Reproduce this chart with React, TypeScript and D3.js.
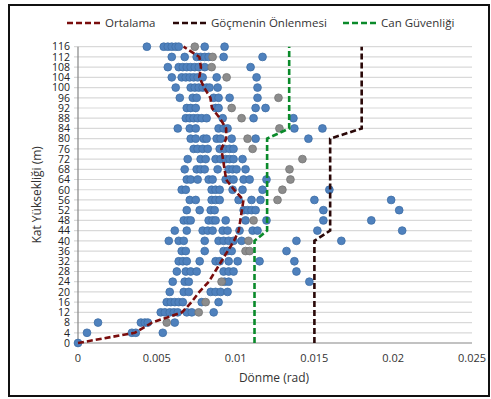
import React, { useEffect, useRef } from 'react';
import * as d3 from 'd3';

const levels = [0, 4, 8, 12, 16, 20, 24, 28, 32, 36, 40, 44, 48, 52, 56, 60, 64, 68, 72, 76, 80, 84, 88, 92, 96, 100, 104, 108, 112, 116];

const xTicks = [0, 0.005, 0.01, 0.015, 0.02, 0.025];
const xTickLabels = ['0', '0.005', '0.01', '0.015', '0.02', '0.025'];

// Ortalama (mean) per level
const ortalama = [0, 0.0036, 0.0047, 0.0066, 0.0072, 0.0077, 0.0083, 0.0087, 0.0091, 0.0095, 0.0099, 0.0102, 0.0103, 0.0104, 0.0105, 0.0099, 0.0094, 0.0093, 0.0092, 0.0091, 0.0094, 0.0094, 0.009, 0.0085, 0.0084, 0.008, 0.0077, 0.0078, 0.0077, 0.0067];

// limit lines
const gocmeninLevels = [0, 40, 44, 80, 84, 116];
const gocmeninValues = [0.015, 0.015, 0.016, 0.016, 0.018, 0.018];
const canLevels = [0, 40, 44, 80, 84, 116];
const canValues = [0.0112, 0.0112, 0.012, 0.012, 0.0134, 0.0134];

// individual records, one list per level (same order as levels)
const blueDots = [
  [0],
  [0.00057, 0.00342, 0.00367, 0.00538],
  [0.00127, 0.00399, 0.00424, 0.00443, 0.00614],
  [0.00525, 0.00551, 0.00582, 0.00608, 0.00633, 0.0069, 0.00722, 0.00861],
  [0.00563, 0.00589, 0.00614, 0.00639, 0.00665, 0.00785, 0.00892],
  [0.00582, 0.00671, 0.00703, 0.00842, 0.00873, 0.00905, 0.00949],
  [0.00601, 0.00677, 0.00703, 0.0093, 0.00956, 0.01468],
  [0.00627, 0.00684, 0.00715, 0.00753, 0.00924, 0.00956, 0.00987, 0.01386],
  [0.00639, 0.00665, 0.0069, 0.00772, 0.00873, 0.00899, 0.00956, 0.01013, 0.01152, 0.01373],
  [0.00658, 0.00684, 0.00804, 0.00924, 0.00949, 0.00975, 0.01323],
  [0.00576, 0.00639, 0.00671, 0.00804, 0.00892, 0.00924, 0.00956, 0.00987, 0.01038, 0.01386, 0.01671],
  [0.00614, 0.0069, 0.00791, 0.00823, 0.00854, 0.00918, 0.00949, 0.01025, 0.01108, 0.01139, 0.01519, 0.02057],
  [0.00671, 0.00696, 0.00715, 0.00829, 0.00854, 0.00873, 0.00937, 0.01063, 0.01196, 0.01557, 0.01861],
  [0.0069, 0.00772, 0.00842, 0.00867, 0.01051, 0.01076, 0.01101, 0.01127, 0.01557, 0.02038],
  [0.00709, 0.00747, 0.00848, 0.00873, 0.00899, 0.01019, 0.01101, 0.01158, 0.015, 0.01987],
  [0.00658, 0.00684, 0.00848, 0.00873, 0.00899, 0.00981, 0.01044, 0.01171, 0.01595],
  [0.0069, 0.00715, 0.00759, 0.00829, 0.00854, 0.00937, 0.00962, 0.00987, 0.01051, 0.01089, 0.01196],
  [0.00677, 0.00753, 0.00778, 0.00804, 0.00886, 0.00956, 0.00981, 0.01006, 0.01063],
  [0.00696, 0.00778, 0.0081, 0.00873, 0.00905, 0.00937, 0.00962, 0.00987, 0.01044],
  [0.00734, 0.00759, 0.00791, 0.00823, 0.00899, 0.0093, 0.00962, 0.00987],
  [0.00715, 0.00747, 0.00797, 0.00816, 0.0088, 0.00905, 0.00975, 0.01127, 0.01462],
  [0.00633, 0.00709, 0.00747, 0.00892, 0.00924, 0.00949, 0.01373, 0.01551],
  [0.00684, 0.00709, 0.00734, 0.00759, 0.00785, 0.00816, 0.00918, 0.01114, 0.01367],
  [0.0069, 0.00715, 0.00747, 0.00873, 0.00892, 0.01127, 0.0119],
  [0.00646, 0.00728, 0.00753, 0.00861, 0.00892, 0.00962, 0.01139],
  [0.0062, 0.00715, 0.00741, 0.00766, 0.00791, 0.00816, 0.00835, 0.00886, 0.01139],
  [0.00595, 0.00658, 0.00684, 0.00709, 0.00734, 0.00759, 0.00791, 0.0088, 0.01133],
  [0.0057, 0.00639, 0.00665, 0.0069, 0.00715, 0.00741, 0.00766, 0.00804, 0.01095],
  [0.00595, 0.00677, 0.00753, 0.00778, 0.00804, 0.00829, 0.00924, 0.01171],
  [0.00437, 0.00544, 0.0057, 0.00595, 0.0062, 0.00639, 0.00804, 0.0093]
];

const grayDots = [
  [], [], [0.00563], [0.00766], [0.0081], [], [0.00911], [], [], [0.01063, 0.01089],
  [0.01082], [], [0.01114], [], [0.01266], [0.01297], [0.01348], [0.01342], [0.01424], [0.01108],
  [0.01076], [0.01278], [0.01038], [0.00975], [0.01272], [], [0.00943], [0.00848], [0.00854], [0.00741]
];

const legendNames = ['Ortalama', 'Göçmenin Önlenmesi', 'Can Güvenliği'];
const legendColors = ['#7a0d0d', '#2a0808', '#0a8a2a'];

const App = () => {
  const ref = useRef<SVGSVGElement>(null);

  useEffect(() => {
    const svg = d3.select(ref.current);
    svg.selectAll('*').remove();

    const font = "'Open Sans', sans-serif";
    const left = 78, right = 472, top = 46.7, bottom = 343;

    const x = d3.scaleLinear().domain([0, 0.025]).range([left, right]);
    const y = d3.scaleLinear().domain([0, 116]).range([bottom, top]);

    // outer frame
    svg.append('rect')
      .attr('x', 9).attr('y', 5).attr('width', 480).attr('height', 391)
      .attr('fill', 'white').attr('stroke', '#111').attr('stroke-width', 2);

    // gridlines
    svg.append('g').selectAll('line')
      .data(levels)
      .enter().append('line')
      .attr('x1', left - 4).attr('x2', right)
      .attr('y1', d => y(d)).attr('y2', d => y(d))
      .attr('stroke', d => d === 0 ? '#868686' : '#d9d9d9')
      .attr('stroke-width', 1.2);

    svg.append('line')
      .attr('x1', left).attr('x2', left)
      .attr('y1', top).attr('y2', bottom + 4)
      .attr('stroke', '#868686').attr('stroke-width', 1.2);

    // y tick labels
    svg.append('g').selectAll('text')
      .data(levels)
      .enter().append('text')
      .attr('x', left - 8).attr('y', d => y(d))
      .attr('dy', '0.36em')
      .attr('text-anchor', 'end')
      .attr('font-family', font).attr('font-size', 10.5)
      .attr('fill', '#222')
      .text(d => d);

    // x tick labels
    svg.append('g').selectAll('text')
      .data(xTicks)
      .enter().append('text')
      .attr('x', d => x(d)).attr('y', bottom + 19)
      .attr('text-anchor', 'middle')
      .attr('font-family', font).attr('font-size', 11)
      .attr('fill', '#333')
      .text((d, i) => xTickLabels[i]);

    // axis titles
    svg.append('text')
      .attr('x', (left + right) / 2 - 1).attr('y', 382)
      .attr('text-anchor', 'middle')
      .attr('font-family', font).attr('font-size', 12)
      .attr('fill', '#333')
      .text('Dönme (rad)');

    svg.append('text')
      .attr('transform', `translate(41,${(top + bottom) / 2}) rotate(-90)`)
      .attr('text-anchor', 'middle')
      .attr('font-family', font).attr('font-size', 12)
      .attr('fill', '#333')
      .text('Kat Yüksekliği (m)');

    // scatter
    const blue = levels.flatMap((lv, i) => blueDots[i].map(v => ({ lv, v })));
    const gray = levels.flatMap((lv, i) => grayDots[i].map(v => ({ lv, v })));

    svg.append('g').selectAll('circle')
      .data(blue)
      .enter().append('circle')
      .attr('cx', d => x(d.v)).attr('cy', d => y(d.lv))
      .attr('r', 3.9)
      .attr('fill', '#4f81bd').attr('stroke', '#3f6fa6').attr('stroke-width', 0.8);

    svg.append('g').selectAll('circle')
      .data(gray)
      .enter().append('circle')
      .attr('cx', d => x(d.v)).attr('cy', d => y(d.lv))
      .attr('r', 3.9)
      .attr('fill', '#8c8c8c').attr('stroke', '#767676').attr('stroke-width', 0.8);

    // lines
    const line = d3.line<[number, number]>()
      .x(d => x(d[0]))
      .y(d => y(d[1]));

    const series: [number, number][][] = [
      levels.map((lv, i) => [ortalama[i], lv]),
      gocmeninLevels.map((lv, i) => [gocmeninValues[i], lv]),
      canLevels.map((lv, i) => [canValues[i], lv])
    ];

    series.forEach((s, i) => {
      svg.append('path')
        .attr('d', line(s))
        .attr('fill', 'none')
        .attr('stroke', legendColors[i])
        .attr('stroke-width', 2.6)
        .attr('stroke-dasharray', '6,3');
    });

    // legend
    const legendX = [67, 173, 343];
    const legend = svg.append('g');
    legendNames.forEach((name, i) => {
      legend.append('line')
        .attr('x1', legendX[i]).attr('x2', legendX[i] + 35)
        .attr('y1', 23).attr('y2', 23)
        .attr('stroke', legendColors[i])
        .attr('stroke-width', 2.6)
        .attr('stroke-dasharray', '6,3');
      legend.append('text')
        .attr('x', legendX[i] + 38).attr('y', 23)
        .attr('dy', '0.36em')
        .attr('font-family', font).attr('font-size', 11.5)
        .attr('fill', '#333')
        .text(name);
    });
  }, []);

  return (
    <svg ref={ref} width={491} height={399}
      style={{ position: 'absolute', left: 0, top: 0, background: 'white' }} />
  );
};

export default App;
